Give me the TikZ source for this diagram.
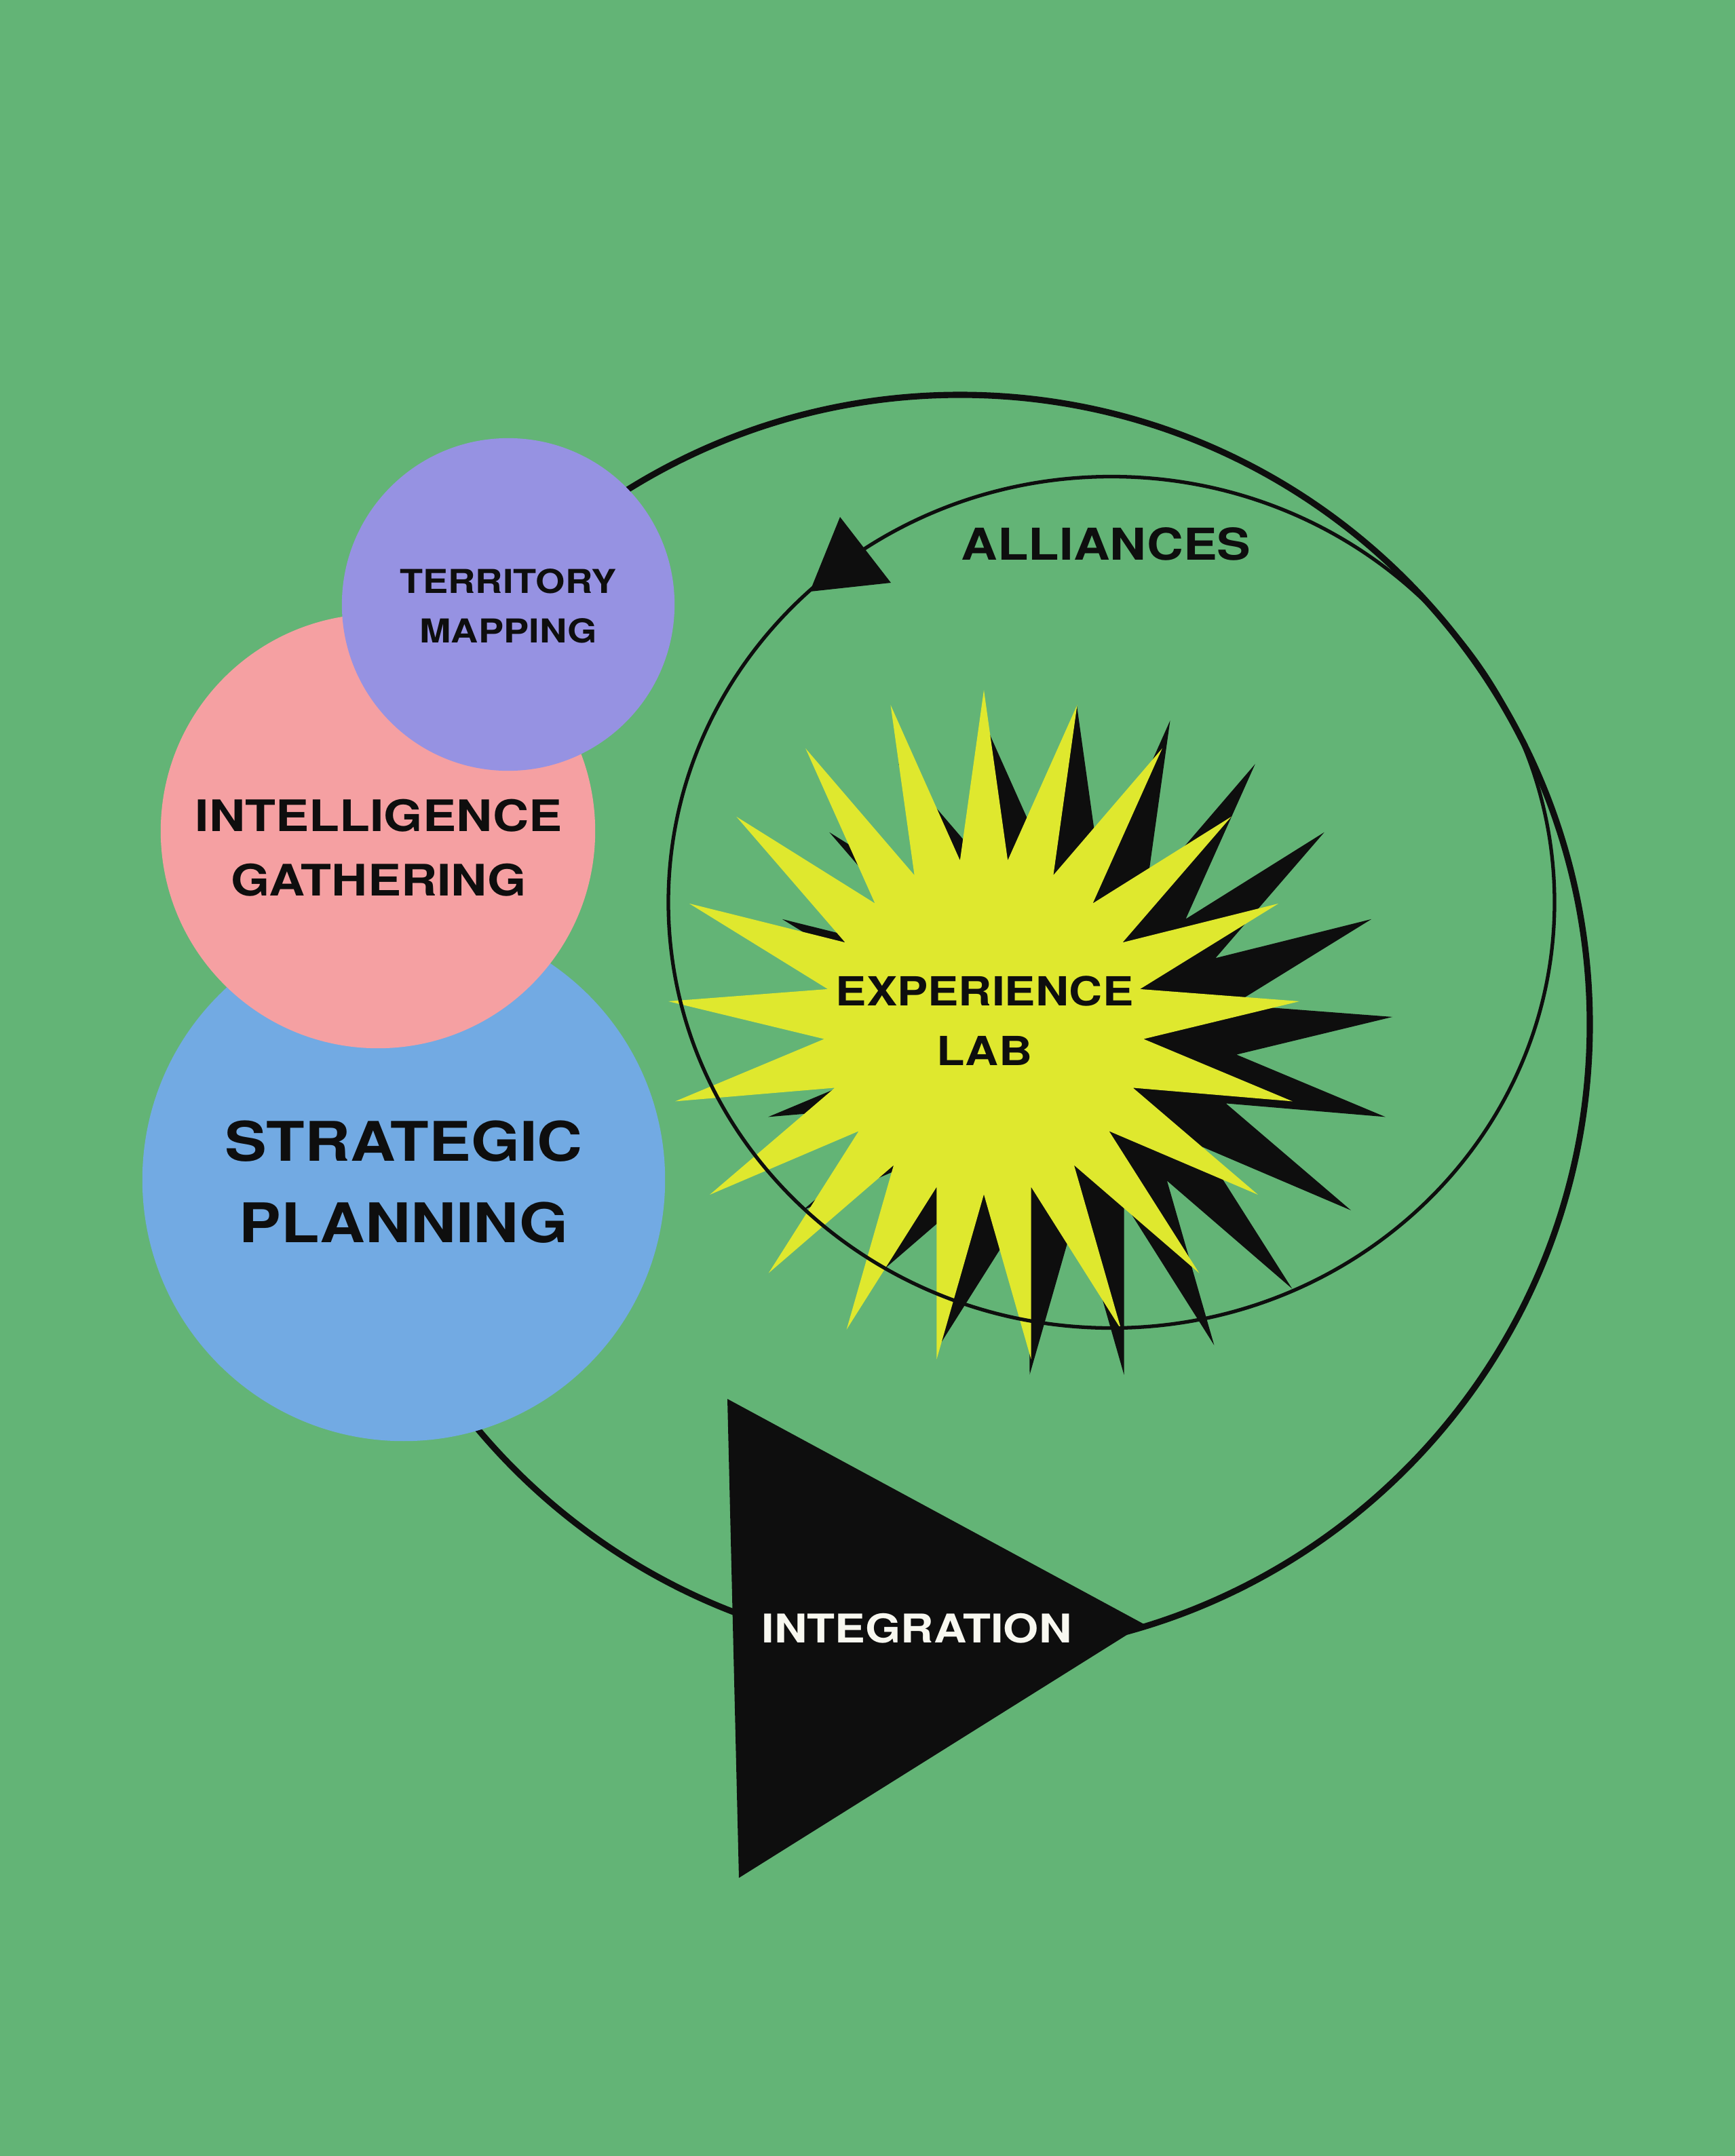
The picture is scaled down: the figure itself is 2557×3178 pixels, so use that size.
\documentclass[tikz,border=0pt]{standalone}
\usepackage{fontspec}
\newfontfamily\capsfont[FakeStretch=1.15]{TeX Gyre Heros}
\usetikzlibrary{positioning}
\definecolor{meadow}{RGB}{99,180,118}
\definecolor{ink}{RGB}{14,14,14}
\definecolor{burstyellow}{RGB}{223,232,46}
\definecolor{bluedisc}{RGB}{114,170,227}
\definecolor{pinkdisc}{RGB}{245,160,162}
\definecolor{lilacdisc}{RGB}{150,146,226}
\definecolor{chalk}{RGB}{248,248,240}

\begin{document}
\begin{tikzpicture}[
  x=0.01cm, y=-0.01cm,
  disc/.style={circle, inner sep=0pt},
  caption/.style={text=ink, align=center, inner sep=0pt},
  ring/.style={draw=ink, line width=2.6pt},
  thinring/.style={draw=ink, line width=1.5pt},
  starburst/.pic={
    \fill (0,-496) \foreach \k in {1,...,41}{
      -- ({(351.25+115.25*cos(180*\k))*cos(90+\k*360/42)},
          {-(371.75+124.25*cos(180*\k))*sin(90+\k*360/42)})
    } -- cycle;
  }
]
% background
\fill[meadow] (0,0) rectangle (2557,3178);
\useasboundingbox (0,0) rectangle (2557,3178);

% big loop under everything
\coordinate (loop) at (1415,1510);
\draw[ring] (loop) circle[radius=928];

% the three discs
\node[disc, fill=bluedisc, minimum size=7.7cm] (planning) at (595,1739) {};
\node[disc, fill=pinkdisc, minimum size=6.4cm] (intel) at (557,1225) {};
\node[disc, fill=lilacdisc, minimum size=4.9cm] (territory) at (749,891) {};

% experience lab burst, shadow first
\pic[color=ink] at (1587,1536) {starburst};
\pic[color=burstyellow] at (1450,1513) {starburst};

% inner loop and its arrowhead
\coordinate (lab loop) at (1638,1330);
\draw[thinring] (lab loop) ellipse[x radius=653, y radius=627.5];
\fill[ink] (1238,762) -- (1193.5,872) -- (1313,859) -- cycle;

% integration triangle
\fill[ink] (1072,2062) -- (1089,2768) -- (1686,2394) -- cycle;

% labels
\node[caption, font={\capsfont\bfseries\fontsize{22.9}{34.1}\selectfont}] (planning text) at (595,1742) {STRATEGIC\\PLANNING};
\node[caption, font={\capsfont\bfseries\fontsize{18.2}{27}\selectfont}] (intel text) at (558,1249.5) {INTELLIGENCE\\GATHERING};
\node[caption, font={\capsfont\bfseries\fontsize{13.8}{20.8}\selectfont}] (territory text) at (749,893.5) {TERRITORY\\MAPPING};
\node[caption, font={\capsfont\bfseries\fontsize{16.8}{24.8}\selectfont}] (lab) at (1451,1504.5) {EXPERIENCE\\LAB};
\node[caption, font={\capsfont\bfseries\fontsize{18.4}{22}\selectfont}] (alliances) at (1630,801.5) {ALLIANCES};
\node[caption, text=chalk, font={\capsfont\bfseries\fontsize{16.6}{20}\selectfont}] (integration) at (1351,2400) {INTEGRATION};
\end{tikzpicture}
\end{document}
